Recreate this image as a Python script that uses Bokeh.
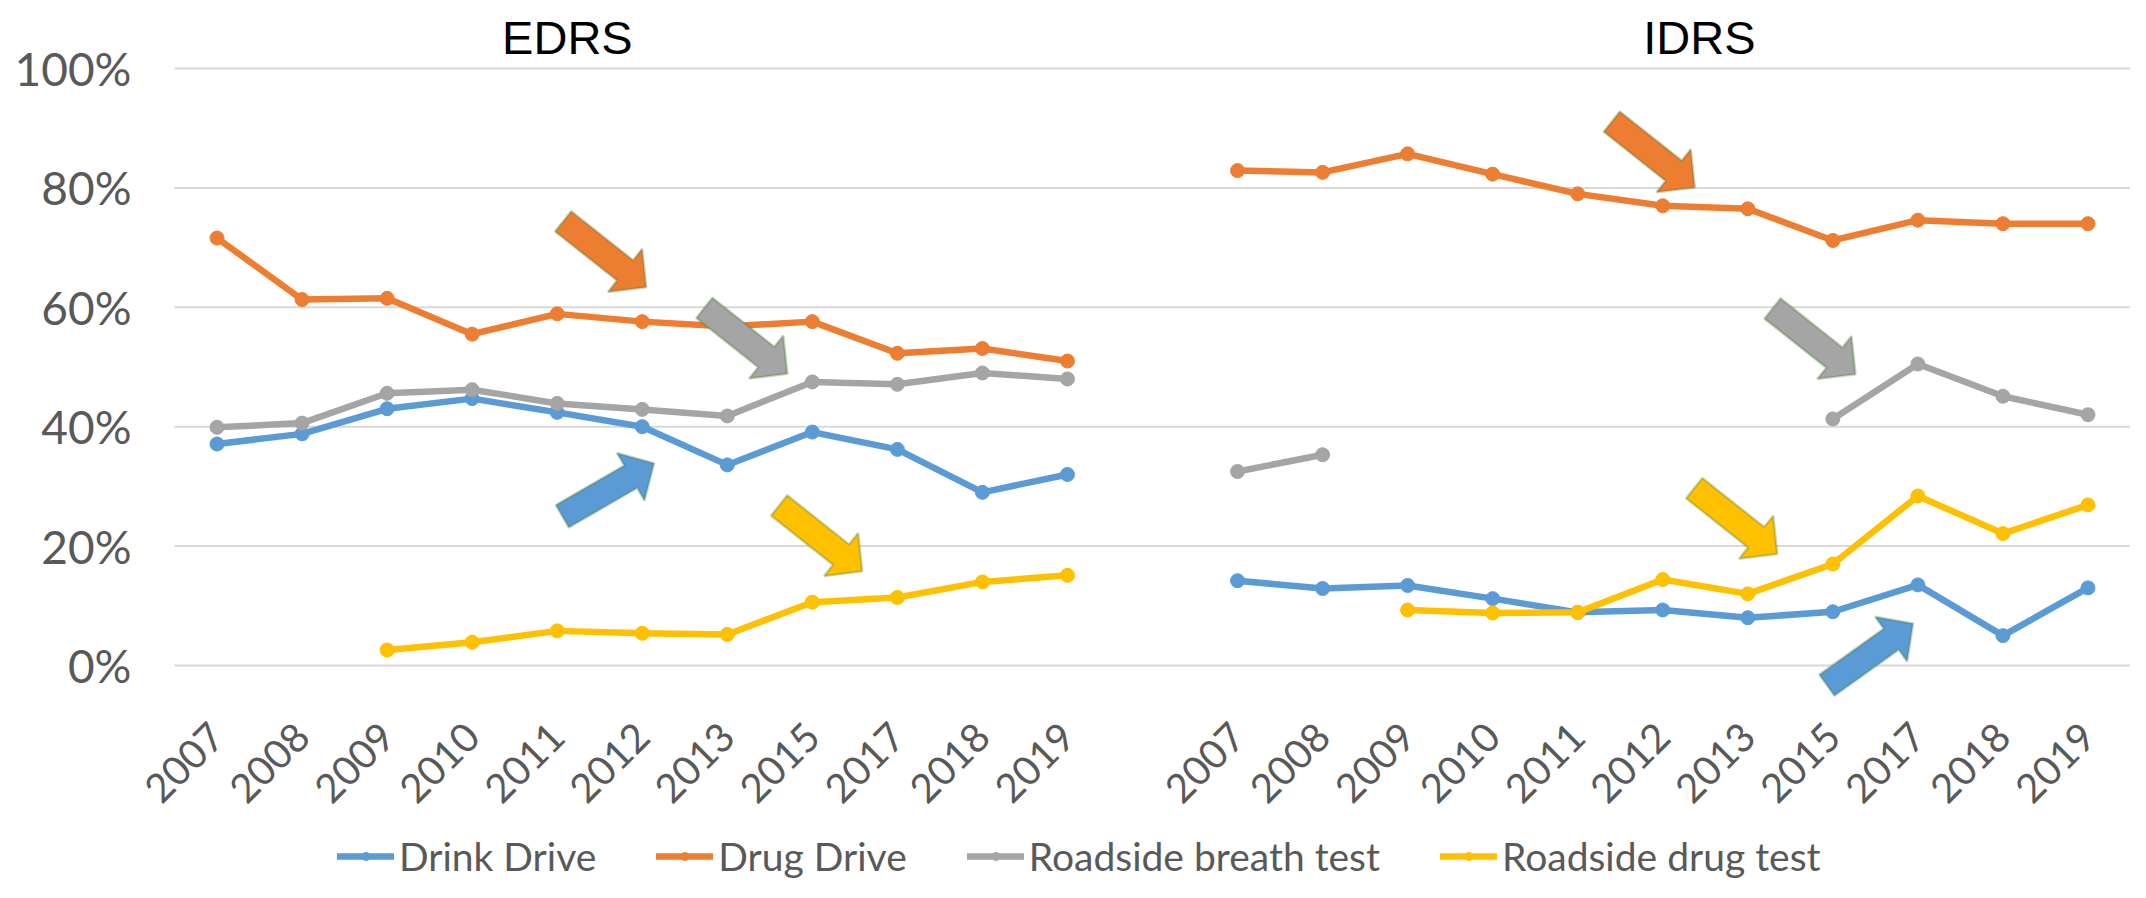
import math
from bokeh.plotting import figure
from bokeh.models import (Range1d, FixedTicker, PrintfTickFormatter, Label,
                          Legend, LegendItem, PolyAnnotation)
from bokeh.embed import file_html
from bokeh.resources import INLINE

nan = float("nan")

# ---------------- data ----------------
years = ["2007", "2008", "2009", "2010", "2011", "2012", "2013", "2015", "2017", "2018", "2019"]
groups = ["EDRS", "IDRS"]
series_names = ["Drink Drive", "Drug Drive", "Roadside breath test", "Roadside drug test"]
colors = ["#5B9BD5", "#ED7D31", "#A5A5A5", "#FFC000"]

drink_edrs = [37.1, 38.8, 43.0, 44.7, 42.4, 40.0, 33.6, 39.1, 36.2, 29.0, 32.0]
drug_edrs = [71.6, 61.3, 61.5, 55.5, 58.9, 57.6, 56.8, 57.6, 52.3, 53.1, 51.0]
breath_edrs = [39.9, 40.6, 45.6, 46.2, 43.9, 42.9, 41.8, 47.5, 47.1, 49.0, 48.0]
drugtest_edrs = [nan, nan, 2.6, 3.9, 5.8, 5.4, 5.2, 10.6, 11.4, 14.0, 15.1]

drink_idrs = [14.2, 12.9, 13.4, 11.2, 8.9, 9.3, 8.0, 9.0, 13.5, 5.0, 13.0]
drug_idrs = [82.9, 82.6, 85.7, 82.3, 79.0, 77.0, 76.5, 71.2, 74.6, 74.0, 74.0]
breath_idrs = [32.5, 35.3, nan, nan, nan, nan, nan, 41.3, 50.5, 45.1, 42.0]
drugtest_idrs = [nan, nan, 9.3, 8.8, 8.9, 14.4, 12.0, 17.0, 28.4, 22.1, 26.9]

y_ticks = [0, 20, 40, 60, 80, 100]

# annotation arrows: (tail x in category units, tail y in %, angle deg, colour index)
arrows = [
    (4.07, 74.4, -38.4, 1),
    (5.73, 59.9, -38.4, 2),
    (6.61, 26.8, -38.4, 3),
    (4.06, 25.0, 30.0, 0),
    (16.40, 91.1, -38.4, 1),
    (18.29, 59.8, -38.4, 2),
    (17.37, 29.7, -38.4, 3),
    (18.93, -3.3, 35.6, 0),
]

# ---------------- layout ----------------
W, H = 2130, 882
LEFT = 174           # space left of the plot area
TOP_PX = 68          # space above the 100% line
BOTTOM_PX = 217      # space below the 0% line
PX_Y = 597 / 100.0   # pixels per percentage point

n = len(years)
edrs_x = list(range(n))
idrs_x = [n + 1 + i for i in range(n)]
gap_x = n
all_x = edrs_x + [gap_x] + idrs_x
area_lo, x_hi = -0.5, all_x[-1] + 0.5
PX_X = (W - LEFT) / (x_hi - area_lo)
x_lo = area_lo - LEFT / PX_X

y_lo = -BOTTOM_PX / PX_Y
y_hi = 100 + TOP_PX / PX_Y

p = figure(width=W, height=H, output_backend="svg", toolbar_location=None,
           x_range=Range1d(x_lo, x_hi), y_range=Range1d(y_lo, y_hi),
           min_border_left=0, min_border_right=0, min_border_top=0,
           min_border_bottom=0)
p.outline_line_color = None
p.background_fill_color = "white"
p.border_fill_color = "white"
p.xgrid.grid_line_color = None
p.ygrid.grid_line_color = None

# horizontal gridlines across the plot area only
p.segment(x0=[area_lo] * len(y_ticks), x1=[x_hi] * len(y_ticks), y0=y_ticks, y1=y_ticks,
          line_color="#D9D9D9", line_width=2, level="underlay")

series = [
    (drink_edrs, drink_idrs),
    (drug_edrs, drug_idrs),
    (breath_edrs, breath_idrs),
    (drugtest_edrs, drugtest_idrs),
]

items = []
for (e, i), name, c in zip(series, series_names, colors):
    ys = list(e) + [nan] + list(i)
    lr = p.line(all_x, ys, line_color=c, line_width=6.5, line_join="round", line_cap="round")
    sr = p.scatter(all_x, ys, size=14, fill_color=c, line_color=c)
    items.append(LegendItem(label=name, renderers=[lr, sr]))

legend = Legend(items=items, orientation="horizontal", location=(337, 3),
                glyph_width=57, glyph_height=20, label_standoff=5, spacing=60,
                padding=0, margin=0, border_line_color=None, background_fill_alpha=0,
                label_text_font="Lato", label_text_font_size="39px",
                label_text_color="#595959")
p.add_layout(legend)

# axes
p.yaxis.fixed_location = area_lo
p.yaxis.ticker = FixedTicker(ticks=y_ticks)
p.yaxis.formatter = PrintfTickFormatter(format="%d%%")
p.yaxis.axis_line_color = None
p.yaxis.major_tick_line_color = None
p.yaxis.minor_tick_line_color = None
p.yaxis.major_label_standoff = 37
p.yaxis.major_label_text_font = "Lato"
p.yaxis.major_label_text_font_size = "46px"
p.yaxis.major_label_text_color = "#595959"

ticks = edrs_x + idrs_x
p.xaxis.fixed_location = 0
p.xaxis.ticker = FixedTicker(ticks=ticks)
p.xaxis.major_label_overrides = {t: y for t, y in zip(ticks, years + years)}
p.xaxis.major_label_orientation = math.pi / 4
p.xaxis.axis_line_color = None
p.xaxis.major_tick_line_color = None
p.xaxis.minor_tick_line_color = None
p.xaxis.major_label_standoff = 58
p.xaxis.major_label_text_font = "Lato"
p.xaxis.major_label_text_font_size = "40px"
p.xaxis.major_label_text_color = "#595959"

# group titles
for gx, gname in zip([4.12, 17.43], groups):
    p.add_layout(Label(x=gx, y=105.2, text=gname, text_font="Liberation Sans",
                       text_font_size="47px", text_align="center",
                       text_baseline="alphabetic", text_color="black"))

# arrows
L_TOT, HEAD_L, BODY_HW, HEAD_HW = 106, 27, 13, 27.5
for ax, ay, ang, ci in arrows:
    a = math.radians(ang)
    ux, uy = math.cos(a), math.sin(a)
    vx, vy = -uy, ux
    pts = [(0, BODY_HW), (L_TOT - HEAD_L, BODY_HW), (L_TOT - HEAD_L, HEAD_HW),
           (L_TOT, 0), (L_TOT - HEAD_L, -HEAD_HW), (L_TOT - HEAD_L, -BODY_HW),
           (0, -BODY_HW)]
    xs = [ax + (u * ux + v * vx) / PX_X for u, v in pts]
    ys = [ay + (u * uy + v * vy) / PX_Y for u, v in pts]
    p.add_layout(PolyAnnotation(xs=xs, ys=ys, fill_color=colors[ci], fill_alpha=1,
                                line_color="#41782B", line_width=2.5))

open("out.html", "w").write(file_html(p, INLINE))
